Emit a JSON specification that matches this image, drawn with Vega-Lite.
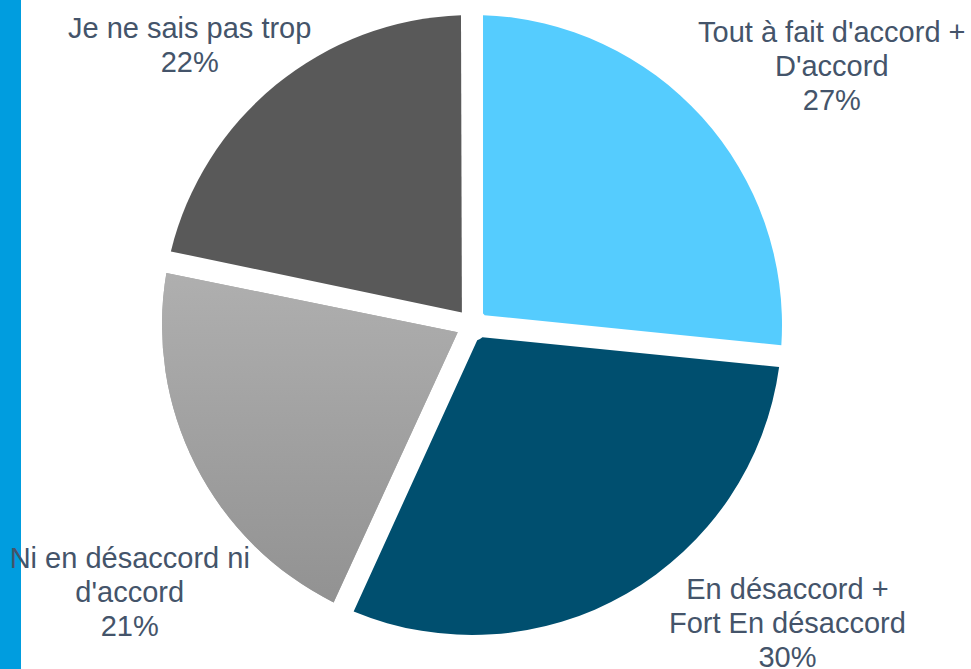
{
  "$schema": "https://vega.github.io/schema/vega-lite/v6.json",
  "padding": 0,
  "background": "white",
  "bounds": "flush",
  "spacing": 0,
  "config": {"view": {"stroke": null}},
  "data": {
    "values": [
      {"categorie": "Tout à fait d'accord + D'accord", "etiquette": "Tout à fait d'accord +\nD'accord\n27%", "valeur": 26.6, "ordre": 1},
      {"categorie": "En désaccord + Fort En désaccord", "etiquette": "En désaccord +\nFort En désaccord\n30%", "valeur": 30.2, "ordre": 2},
      {"categorie": "Ni en désaccord ni d'accord", "etiquette": "Ni en désaccord ni\nd'accord\n21%", "valeur": 21.45, "ordre": 3},
      {"categorie": "Je ne sais pas trop", "etiquette": "Je ne sais pas trop\n22%", "valeur": 21.75, "ordre": 4}
    ]
  },
  "hconcat": [
    {
      "width": 21,
      "height": 669,
      "view": {"stroke": null, "fill": "#009DDF"},
      "mark": {"type": "rect", "color": "#009DDF"},
      "encoding": {}
    },
    {
      "width": 902,
      "height": 650,
      "layer": [
        {
          "transform": [
            {"stack": "valeur", "groupby": [], "sort": [{"field": "ordre", "order": "ascending"}], "as": ["v0", "v1"]}
          ],
          "mark": {"type": "arc", "outerRadius": 310, "innerRadius": 16, "padAngle": 0.071},
          "encoding": {
            "theta": {"field": "v0", "type": "quantitative", "scale": {"domain": [0, 100]}},
            "theta2": {"field": "v1"},
            "color": {
              "field": "categorie",
              "type": "nominal",
              "scale": {
                "domain": ["Tout à fait d'accord + D'accord", "En désaccord + Fort En désaccord", "Ni en désaccord ni d'accord", "Je ne sais pas trop"],
                "range": ["#55CCFE", "#004F6F", "#A5A5A5", "#595959"]
              },
              "legend": null
            }
          }
        },
        {
          "transform": [
            {"stack": "valeur", "groupby": [], "sort": [{"field": "ordre", "order": "ascending"}], "as": ["v0", "v1"]},
            {"filter": "datum.ordre === 3"}
          ],
          "mark": {
            "type": "arc",
            "outerRadius": 310,
            "innerRadius": 16,
            "padAngle": 0.071,
            "fill": {
              "gradient": "linear",
              "x1": 0, "y1": 0, "x2": 0, "y2": 1,
              "stops": [
                {"offset": 0, "color": "#AFAFAF"},
                {"offset": 1, "color": "#929292"}
              ]
            }
          },
          "encoding": {
            "theta": {"field": "v0", "type": "quantitative", "scale": {"domain": [0, 100]}},
            "theta2": {"field": "v1"}
          }
        },
        {
          "mark": {"type": "text", "radius": 330, "dx": 115, "dy": -62, "font": "Liberation Sans", "fill": "#44546A", "align": "center", "baseline": "alphabetic", "lineBreak": "\n", "lineHeight": 34},
          "encoding": {
            "theta": {"field": "valeur", "type": "quantitative", "stack": true},
            "order": {"field": "ordre", "type": "quantitative", "sort": "ascending"},
            "size": {"condition": {"test": "datum.ordre === 1", "value": 29}, "value": 0},
            "text": {"condition": {"test": "datum.ordre === 1", "field": "etiquette", "type": "nominal"}, "value": ""}
          }
        },
        {
          "mark": {"type": "text", "radius": 330, "dx": 151, "dy": -12, "font": "Liberation Sans", "fill": "#44546A", "align": "center", "baseline": "alphabetic", "lineBreak": "\n", "lineHeight": 34},
          "encoding": {
            "theta": {"field": "valeur", "type": "quantitative", "stack": true},
            "order": {"field": "ordre", "type": "quantitative", "sort": "ascending"},
            "size": {"condition": {"test": "datum.ordre === 2", "value": 29}, "value": 0},
            "text": {"condition": {"test": "datum.ordre === 2", "field": "etiquette", "type": "nominal"}, "value": ""}
          }
        },
        {
          "mark": {"type": "text", "radius": 330, "dx": -48, "dy": 94, "font": "Liberation Sans", "fill": "#44546A", "align": "center", "baseline": "alphabetic", "lineBreak": "\n", "lineHeight": 34},
          "encoding": {
            "theta": {"field": "valeur", "type": "quantitative", "stack": true},
            "order": {"field": "ordre", "type": "quantitative", "sort": "ascending"},
            "size": {"condition": {"test": "datum.ordre === 3", "value": 29}, "value": 0},
            "text": {"condition": {"test": "datum.ordre === 3", "field": "etiquette", "type": "nominal"}, "value": ""}
          }
        },
        {
          "mark": {"type": "text", "radius": 330, "dx": -74, "dy": -31, "font": "Liberation Sans", "fill": "#44546A", "align": "center", "baseline": "alphabetic", "lineBreak": "\n", "lineHeight": 34},
          "encoding": {
            "theta": {"field": "valeur", "type": "quantitative", "stack": true},
            "order": {"field": "ordre", "type": "quantitative", "sort": "ascending"},
            "size": {"condition": {"test": "datum.ordre === 4", "value": 29}, "value": 0},
            "text": {"condition": {"test": "datum.ordre === 4", "field": "etiquette", "type": "nominal"}, "value": ""}
          }
        }
      ]
    }
  ]
}
